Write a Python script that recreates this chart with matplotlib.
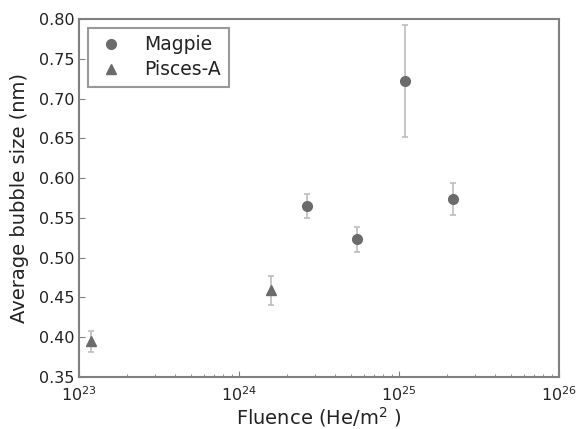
import matplotlib
matplotlib.use("Agg")
import matplotlib.pyplot as plt
from matplotlib.ticker import LogLocator, NullFormatter

# data
magpie_fluence = [2.66e24, 5.46e24, 1.09e25, 2.18e25]
magpie_size = [0.565, 0.523, 0.722, 0.574]
magpie_err = [0.015, 0.016, 0.070, 0.020]

pisces_fluence = [1.19e23, 1.58e24]
pisces_size = [0.395, 0.459]
pisces_err = [0.013, 0.018]

marker_col = "#6b6b6b"
err_col = "#bdbdbd"
spine_col = "#808080"
text_col = "#222222"

fig = plt.figure(figsize=(5.77, 4.29), dpi=100)
ax = fig.add_axes([79 / 577, 1 - 377 / 429, 480 / 577, 358 / 429])

# error bars first, markers on top (legend shows markers only)
ax.errorbar(magpie_fluence, magpie_size, yerr=magpie_err, fmt="none",
            ecolor=err_col, elinewidth=1.2, capsize=2.5, capthick=1.2)
ax.errorbar(pisces_fluence, pisces_size, yerr=pisces_err, fmt="none",
            ecolor=err_col, elinewidth=1.2, capsize=2.5, capthick=1.2)
ax.plot(magpie_fluence, magpie_size, "o", color=marker_col, mec=marker_col,
        ms=7, label="Magpie")
ax.plot(pisces_fluence, pisces_size, "^", color=marker_col, mec=marker_col,
        ms=7, label="Pisces-A")

ax.set_xscale("log")
ax.set_xlim(1e23, 1e26)
ax.set_ylim(0.35, 0.80)
yt = [0.35 + 0.05 * i for i in range(10)]
ax.set_yticks(yt)
ax.set_yticklabels(["%.2f" % v for v in yt])
ax.xaxis.set_major_locator(LogLocator(base=10, numticks=10))
ax.xaxis.set_minor_locator(LogLocator(base=10, subs=range(2, 10), numticks=10))
ax.xaxis.set_minor_formatter(NullFormatter())

for s in ax.spines.values():
    s.set_color(spine_col)
    s.set_linewidth(1.5)

ax.tick_params(which="both", direction="in", colors=spine_col, labelcolor=text_col,
               labelsize=11.5, top=False, right=False)
ax.tick_params(which="major", length=4)
ax.tick_params(which="minor", length=2)
ax.tick_params(axis="x", pad=6)

ax.set_xlabel("Fluence (He/m$^2$ )", fontsize=14, color=text_col, labelpad=1)
ax.set_ylabel("Average bubble size (nm)", fontsize=14, color=text_col, labelpad=7)

leg = ax.legend(loc="upper left", fontsize=13.5, numpoints=1, fancybox=False,
                borderpad=0.4, handlelength=1.6, handletextpad=1.0,
                labelspacing=0.3, borderaxespad=0,
                bbox_to_anchor=(9 / 480, 1 - 9 / 358))
leg.get_frame().set_edgecolor(spine_col)
leg.get_frame().set_linewidth(1.5)
for t in leg.get_texts():
    t.set_color(text_col)

fig.savefig("out.png", dpi=100)
